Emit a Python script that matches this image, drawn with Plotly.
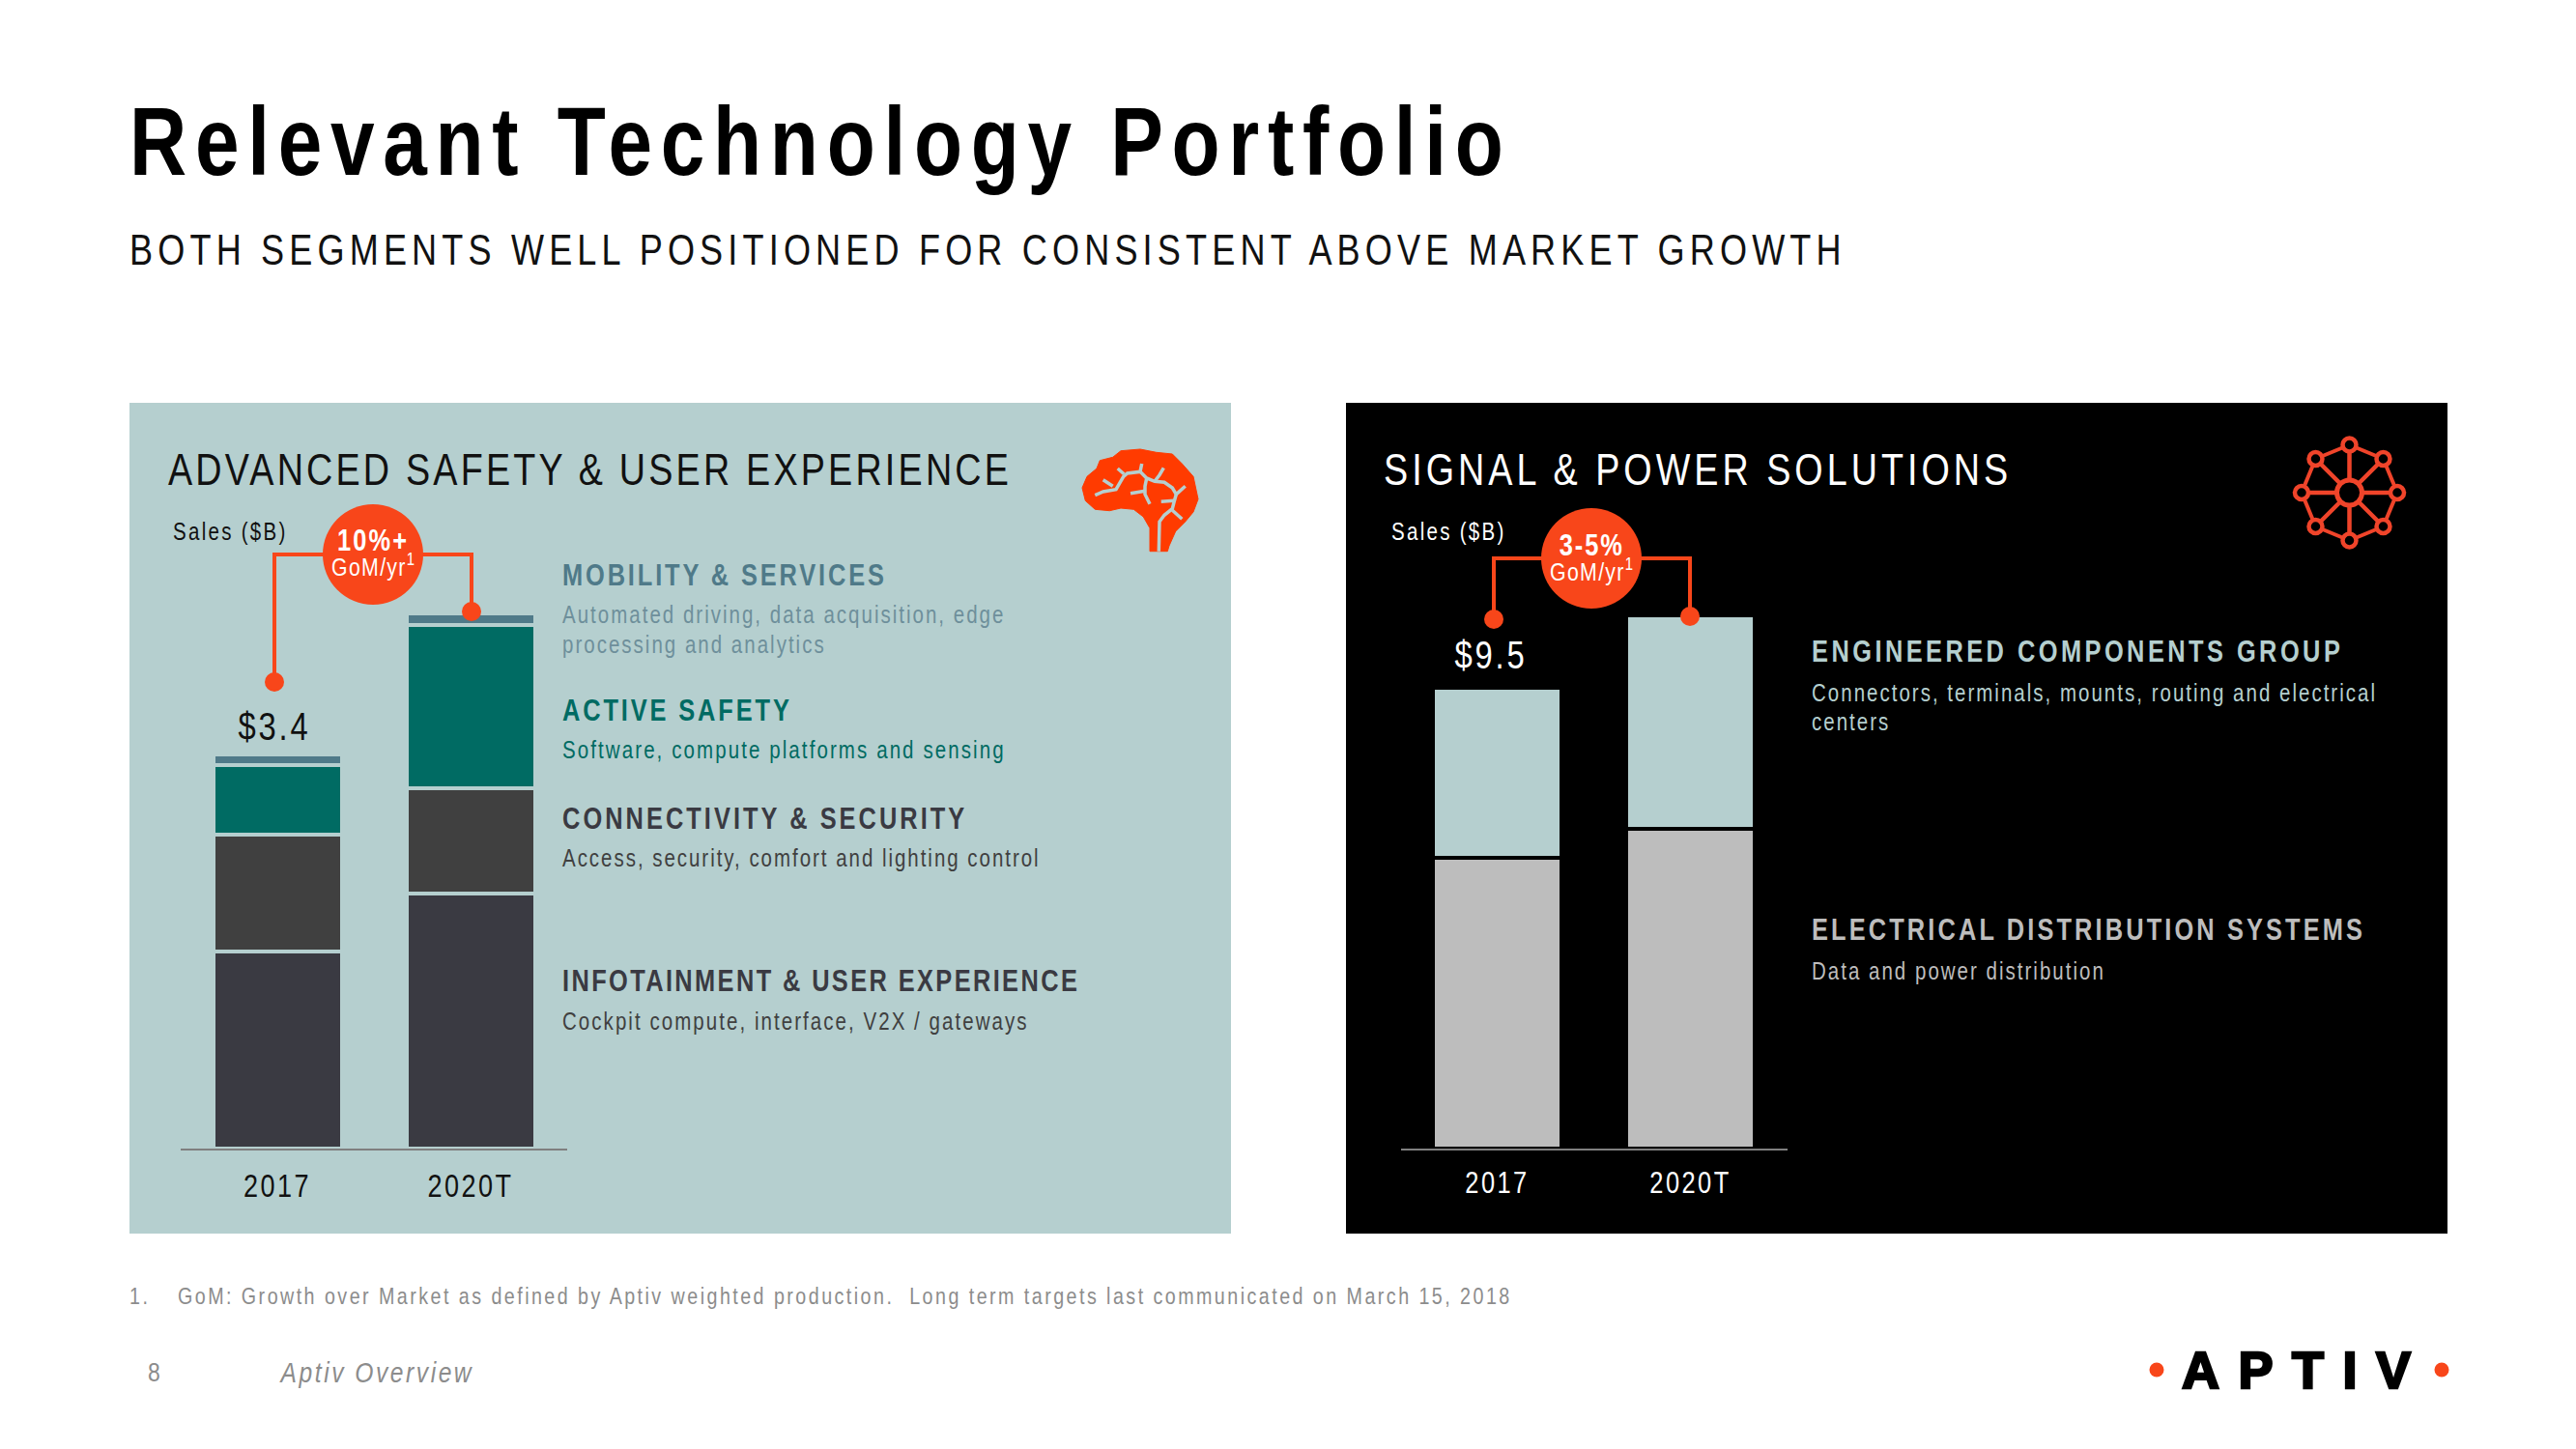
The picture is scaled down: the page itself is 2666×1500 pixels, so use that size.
import math
import plotly.graph_objects as go

# ---------- data ----------
years = ["2017", "2020T"]
infotainment = [1.70, 2.20]
connectivity = [1.01, 0.91]
active_safety = [0.60, 1.41]
mobility = [0.09, 0.10]
electrical = [6.00, 6.59]
engineered = [3.50, 4.41]

W, H = 2666, 1500
PANEL = "#B5CFCF"
ORANGE = "#F8461A"
FONT = "'Liberation Sans',Arial,sans-serif"
NARROW = 0.82

# x, y, text, size, colour, weight, letter spacing, anchor, horizontal scale
texts = [
    (132, 146, "Relevant Technology Portfolio", 100, "#000000", "bold", 10.6, "left", NARROW),
    (132, 258, "BOTH SEGMENTS WELL POSITIONED FOR CONSISTENT ABOVE MARKET GROWTH", 44, "#111111", "normal", 6.3, "left", NARROW),
    (172, 486, "ADVANCED SAFETY & USER EXPERIENCE", 46, "#111111", "normal", 3.9, "left", NARROW),
    (177, 550, "Sales ($B)", 25, "#111111", "normal", 2.8, "left", NARROW),
    (386, 559, "10%+", 31, "#FFFFFF", "bold", 2.6, "center", NARROW),
    (386, 585, "GoM/yr<sup>1</sup>", 26, "#FFFFFF", "normal", 1.6, "center", NARROW),
    (284, 752, "$3.4", 40, "#111111", "normal", 3.4, "center", NARROW),
    (580, 595, "MOBILITY & SERVICES", 31, "#4F7A89", "bold", 3.5, "left", NARROW),
    (580, 636, "Automated driving, data acquisition, edge", 25, "#6E8F9B", "normal", 2.45, "left", NARROW),
    (580, 667, "processing and analytics", 25, "#6E8F9B", "normal", 2.45, "left", NARROW),
    (580, 735, "ACTIVE SAFETY", 31, "#006B63", "bold", 3.5, "left", NARROW),
    (580, 776, "Software, compute platforms and sensing", 25, "#006B63", "normal", 2.55, "left", NARROW),
    (580, 847, "CONNECTIVITY & SECURITY", 31, "#3A3A42", "bold", 3.7, "left", NARROW),
    (580, 888, "Access, security, comfort and lighting control", 25, "#404040", "normal", 2.4, "left", NARROW),
    (580, 1015, "INFOTAINMENT & USER EXPERIENCE", 31, "#3A3A42", "bold", 2.9, "left", NARROW),
    (580, 1057, "Cockpit compute, interface, V2X / gateways", 25, "#404040", "normal", 2.5, "left", NARROW),
    (1430, 486, "SIGNAL & POWER SOLUTIONS", 46, "#FFFFFF", "normal", 4.9, "left", NARROW),
    (1438, 550, "Sales ($B)", 25, "#FFFFFF", "normal", 2.8, "left", NARROW),
    (1647, 564, "3-5%", 31, "#FFFFFF", "bold", 2.3, "center", NARROW),
    (1647, 590, "GoM/yr<sup>1</sup>", 26, "#FFFFFF", "normal", 1.6, "center", NARROW),
    (1543, 678, "$9.5", 40, "#FFFFFF", "normal", 3.4, "center", NARROW),
    (1873, 674, "ENGINEERED COMPONENTS GROUP", 31, PANEL, "bold", 4.2, "left", NARROW),
    (1873, 717, "Connectors, terminals, mounts, routing and electrical", 25, PANEL, "normal", 2.45, "left", NARROW),
    (1873, 747, "centers", 25, PANEL, "normal", 2.45, "left", NARROW),
    (1873, 962, "ELECTRICAL DISTRIBUTION SYSTEMS", 31, "#BDBDBD", "bold", 3.8, "left", NARROW),
    (1873, 1005, "Data and power distribution", 25, "#BDBDBD", "normal", 2.45, "left", NARROW),
    (132, 1341, "1.", 24, "#8C8C8C", "normal", 3, "left", NARROW),
    (182, 1341, "GoM: Growth over Market as defined by Aptiv weighted production.  Long term targets last communicated on March 15, 2018", 24, "#8C8C8C", "normal", 3, "left", NARROW),
    (151, 1420, "8", 28, "#8C8C8C", "normal", 0, "left", NARROW),
    (287, 1420, "<i>Aptiv Overview</i>", 30, "#8C8C8C", "normal", 3.1, "left", NARROW),
    (2256, 1418, "APTIV", 54, "#000000", "bold", 19.5, "left", 1),
]

brain = [(330,392),(330,320),(310,285),(280,262),(240,258),(205,266),(160,262),(130,235),(120,195),(135,160),
         (165,135),(175,110),(215,100),(240,80),(300,75),(350,85),(400,90),(430,120),(465,160),(480,230),
         (465,270),(440,300),(410,330),(390,375),(385,392)]
veins = [
    [(160,218),(185,207),(225,200),(248,160),(260,150),(300,145),(305,120)],
    [(230,135),(250,152)], [(185,170),(215,190)],
    [(300,145),(320,165),(345,175),(375,178),(400,195),(412,215),(440,190)],
    [(345,175),(360,155),(373,133)],
    [(320,165),(315,190),(315,215),(330,245)], [(270,212),(315,205)],
    [(412,215),(405,240),(400,260),(375,280),(360,300),(358,392)],
    [(365,238),(405,235)], [(400,265),(430,292)],
]

# ---------- figure ----------
fig = go.Figure()
fig.add_trace(go.Scatter(x=[], y=[], xaxis="x", yaxis="y", showlegend=False))

def bars(values, colour, edge, ax):
    fig.add_trace(go.Bar(x=years, y=values, width=0.665, xaxis="x" + ax, yaxis="y" + ax,
                         marker=dict(color=colour, line=dict(color=edge, width=4)), showlegend=False))

bars(infotainment, "#3A3A42", PANEL, "2")
bars(connectivity, "#404040", PANEL, "2")
bars(active_safety, "#006B63", PANEL, "2")
bars(mobility, "#4F7A89", PANEL, "2")
bars(electrical, "#BDBDBD", "#000000", "3")
bars(engineered, PANEL, "#000000", "3")

shapes = []
def rect(x0, y0, x1, y1, colour, layer="below"):
    shapes.append(dict(type="rect", xref="x", yref="y", x0=x0, y0=y0, x1=x1, y1=y1, layer=layer,
                       fillcolor=colour, line=dict(width=0)))
def circle(cx, cy, r, fill, line=None, lw=0):
    shapes.append(dict(type="circle", xref="x", yref="y", x0=cx-r, y0=cy-r, x1=cx+r, y1=cy+r, layer="above",
                       fillcolor=fill, line=dict(color=line or fill, width=lw)))
def path(pts, colour, width, fill=None, close=False):
    d = "M" + " L".join(f"{x:.1f},{y:.1f}" for x, y in pts) + (" Z" if close else "")
    shapes.append(dict(type="path", xref="x", yref="y", path=d, layer="above",
                       fillcolor=fill or "rgba(0,0,0,0)", line=dict(color=colour, width=width)))

rect(134, 417, 1274, 1277, PANEL)
rect(1393, 417, 2533, 1277, "#000000")

# connectors
path([(284, 706), (284, 574), (488, 574), (488, 633)], ORANGE, 4)
circle(284, 706, 10, ORANGE); circle(488, 633, 10, ORANGE); circle(386, 574, 52, ORANGE)
path([(1546, 641), (1546, 578), (1749, 578), (1749, 638)], ORANGE, 4)
circle(1546, 641, 10, ORANGE); circle(1749, 638, 10, ORANGE); circle(1647, 578, 52, ORANGE)

# brain icon
to_page = lambda p: (1080 + p[0] / 3, 440 + p[1] / 3)
path([to_page(p) for p in brain], "#FF3B00", 1, "#FF3B00", True)
for v in veins:
    path([to_page(p) for p in v], PANEL, 3.5)

# network icon
cx, cy, R = 2431.5, 510, 49.5
nodes = [(cx + R * math.cos(math.radians(a)), cy + R * math.sin(math.radians(a))) for a in range(0, 360, 45)]
for i, n in enumerate(nodes):
    path([(cx, cy), n], "#F0442A", 4.5)
    path([n, nodes[(i + 1) % 8]], "#F0442A", 4)
for n in nodes:
    circle(n[0], n[1], 7, "#000000", "#F0442A", 4.5)
circle(cx, cy, 13, "#000000", "#F0442A", 5)

# logo dots
circle(2232, 1418, 7.5, ORANGE); circle(2527, 1418, 7.5, ORANGE)

annotations = []
css = ["body{margin:0}"]
for i, (x, y, t, size, col, weight, sp, anchor, sx) in enumerate(texts):
    annotations.append(dict(xref="x", yref="y", x=x, y=y, text=t, showarrow=False, xanchor=anchor,
                            align=anchor, yanchor="middle",
                            font=dict(family=FONT, size=size, color=col, weight=weight)))
    rule = f"letter-spacing:{sp}px;"
    if sx != 1:
        rule += f"transform-box:fill-box;transform-origin:{anchor} center;transform:scaleX({sx});"
    else:
        rule += "stroke:#000;stroke-width:2.5px;"
    css.append(f'.annotation[data-index="{i}"] text{{{rule}}}')
css.append(".x2tick text,.x3tick text{letter-spacing:3px}")
css.append(f".x2tick,.x3tick{{transform-box:fill-box;transform-origin:center;transform:scaleX({NARROW})}}")

def xaxis(x0, x1, colour, size, standoff):
    return dict(domain=[x0 / W, x1 / W], range=[-0.5, 1.5], type="category", showgrid=False, zeroline=False,
                showline=True, linecolor="#7F7F7F", linewidth=2, ticks="", ticklabelstandoff=standoff,
                tickfont=dict(family=FONT, size=size, color=colour), fixedrange=True)
def yaxis(top):
    return dict(domain=[(H - 1189) / H, (H - 417) / H], range=[0, top], visible=False, fixedrange=True)

fig.update_layout(
    width=W, height=H, margin=dict(l=0, r=0, t=0, b=0), paper_bgcolor="#FFFFFF", plot_bgcolor="rgba(0,0,0,0)",
    barmode="stack", showlegend=False, shapes=shapes, annotations=annotations,
    xaxis=dict(domain=[0, 1], range=[0, W], visible=False, fixedrange=True),
    yaxis=dict(domain=[0, 1], range=[H, 0], visible=False, fixedrange=True),
    xaxis2={**xaxis(187, 587, "#111111", 33, 8), "anchor": "y2"},
    yaxis2={**yaxis(772 / 120), "anchor": "x2"},
    xaxis3={**xaxis(1449.5, 1849.5, "#FFFFFF", 31, 7), "anchor": "y3"},
    yaxis3={**yaxis(772 / 50.2), "anchor": "x3"},
)

post = ("var s=document.createElement('style');s.textContent=" + repr("\n".join(css)) +
        ";document.head.appendChild(s);")
fig.write_html("out.html", post_script=post, config={"displayModeBar": False})
